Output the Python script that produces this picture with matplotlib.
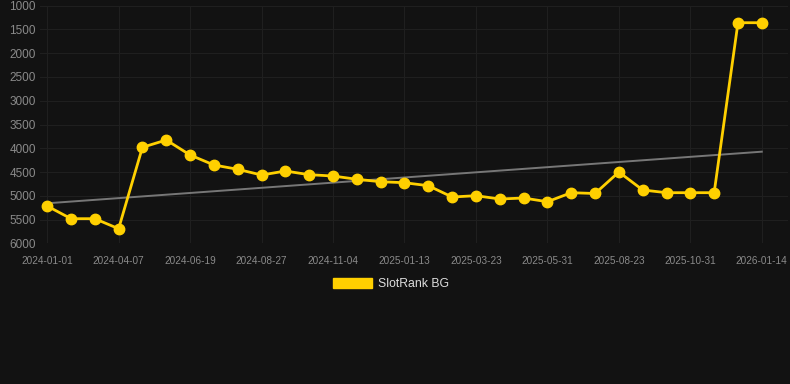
import numpy as np
import matplotlib.pyplot as plt
from matplotlib.patches import Patch

plt.rcParams['font.family'] = ['Liberation Sans', 'DejaVu Sans']

# rank per snapshot (evenly spaced on the x axis)
ranks = [5215, 5482, 5482, 5693, 3980, 3826, 4142, 4352, 4443, 4563,
         4479, 4556, 4584, 4653, 4704, 4725, 4788, 5026, 4998, 5068,
         5047, 5125, 4935, 4952, 4500, 4878, 4935, 4935, 4935, 1358,
         1358]
tick_labels = ["2024-01-01", "2024-04-07", "2024-06-19", "2024-08-27",
               "2024-11-04", "2025-01-13", "2025-03-23", "2025-05-31",
               "2025-08-23", "2025-10-31", "2026-01-14"]
series_name = "SlotRank BG"
# trend line, first and last point
trend = [5158, 4072]

bg = "#121212"
gold = "#FFD000"

x = np.arange(len(ranks))
fig = plt.figure(figsize=(7.9, 3.84), dpi=100, facecolor=bg)
ax = fig.add_axes([40/790, 1-243.3/384, 748/790, 237.6/384])
ax.set_facecolor(bg)

ax.plot([x[0], x[-1]], trend, color="#777777", lw=1.4, zorder=2)
ax.plot(x, ranks, color=gold, lw=2.0, marker="o", ms=7.5, zorder=3)

ax.set_ylim(6000, 1000)
ax.set_yticks(np.arange(1000, 6001, 500))
ax.set_xlim(-0.3, 31.1)
ax.set_xticks(x[::3])
ax.set_xticklabels(tick_labels)

ax.grid(True, color="#1f1f1f", lw=0.8)
ax.set_axisbelow(True)
for s in ax.spines.values():
    s.set_visible(False)
ax.tick_params(axis="y", length=0, pad=3, labelsize=8.5, labelcolor="#8a8a8a")
ax.tick_params(axis="x", length=0, pad=9, labelsize=7.2, labelcolor="#8a8a8a")

fig.legend(handles=[Patch(facecolor=gold, edgecolor=gold)], labels=[series_name],
           loc="center", bbox_to_anchor=(391/790, 1-284/384), frameon=False,
           fontsize=8.8, labelcolor="#dddddd", handlelength=3.2, handleheight=0.95,
           handletextpad=0.5)

fig.savefig("out.png", dpi=100, facecolor=bg)
